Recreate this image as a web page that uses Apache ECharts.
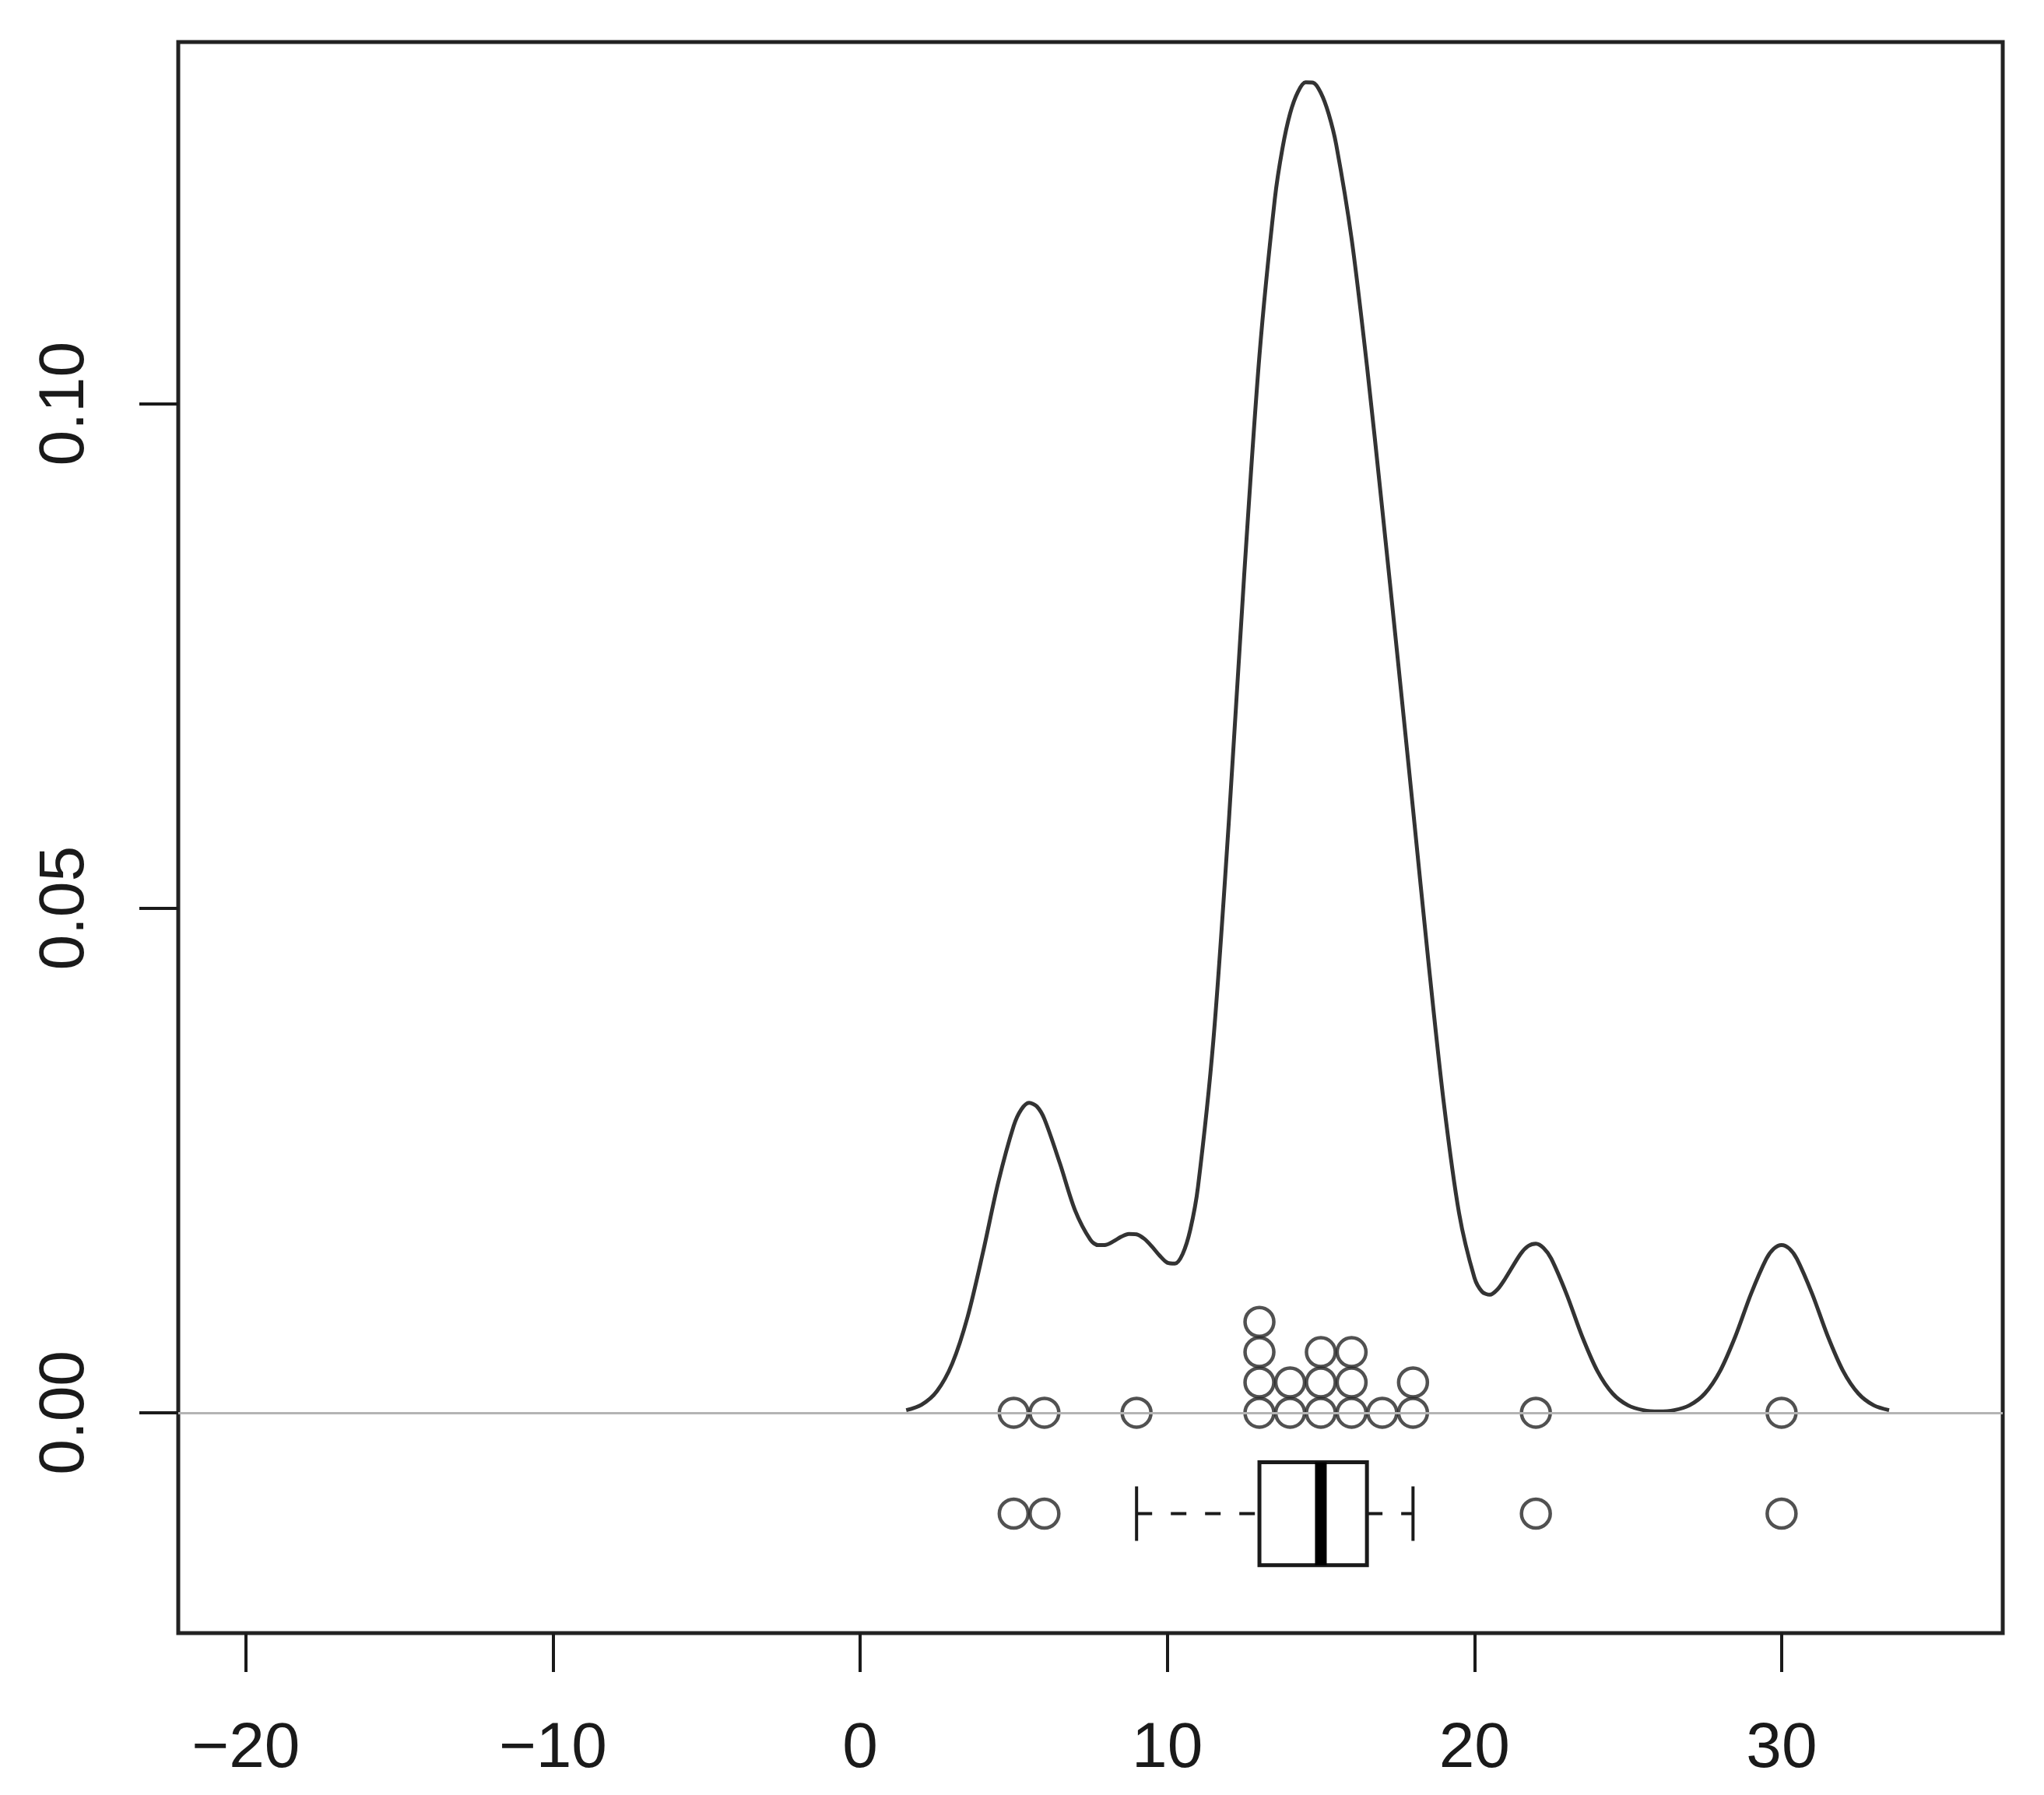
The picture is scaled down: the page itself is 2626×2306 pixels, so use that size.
<!DOCTYPE html>
<html>
<head>
<meta charset="utf-8">
<script src="https://cdn.jsdelivr.net/npm/echarts@6/dist/echarts.min.js"></script>
<style>
html, body { margin: 0; padding: 0; background: #fff; }
#chart { width: 2626px; height: 2306px; }
</style>
</head>
<body>
<div id="chart"></div>
<script>
// density curve
var densX = [1.5, 2, 2.5, 3, 3.5, 4, 4.5, 5, 5.25, 5.5, 5.75, 6, 6.5, 7, 7.5, 7.75, 8, 8.25, 8.5,
    8.75, 9, 9.25, 9.5, 9.75, 10, 10.25, 10.5, 10.75, 11, 11.5, 12, 12.5, 13, 13.5, 13.75, 14,
    14.25, 14.5, 14.75, 15, 15.25, 15.5, 16, 16.5, 17, 17.5, 18, 18.5, 19, 19.5, 20, 20.25,
    20.5, 20.75, 21, 21.5, 21.75, 22, 22.25, 22.5, 23, 23.5, 24, 24.5, 25, 25.5, 26, 26.5, 27,
    27.5, 28, 28.5, 29, 29.5, 29.75, 30, 30.25, 30.5, 31, 31.5, 32, 32.5, 33, 33.5];
var densY = [0.00025, 0.00079, 0.00213, 0.00488, 0.00951, 0.0159, 0.02287, 0.02844, 0.03007, 0.03072,
    0.03036, 0.0291, 0.02475, 0.02004, 0.01712, 0.01661, 0.01664, 0.01699, 0.01744,
    0.01772, 0.01768, 0.01724, 0.01647, 0.01557, 0.01487, 0.01478, 0.01573, 0.01815, 0.02239,
    0.03689, 0.0584, 0.08284, 0.10475, 0.12026, 0.12531, 0.12878,
    0.13088, 0.13184, 0.13181, 0.1308, 0.12876, 0.12567, 0.11636, 0.10376, 0.08952, 0.0748,
    0.05983, 0.04476, 0.03076, 0.01977, 0.01337, 0.01199,
    0.01169, 0.01222, 0.01328, 0.01573, 0.01652, 0.01675, 0.01633, 0.01527, 0.01175, 0.00761,
    0.00415, 0.0019, 0.00073, 0.00025, 0.00013, 0.00025, 0.00073,
    0.0019, 0.00415, 0.00761, 0.01175, 0.01524, 0.01627, 0.01662, 0.01627, 0.01524, 0.01175,
    0.00761, 0.00415, 0.0019, 0.00073, 0.00025];

// observations (stacked strip chart)
var obs = [5, 6, 9, 13, 13, 13, 13, 14, 14, 15, 15, 15, 16, 16, 16, 17, 18, 18, 22, 30];

// boxplot: lower whisker, Q1, median, Q3, upper whisker
var boxStats = [9, 13, 15, 16.5, 18];
var boxOut = [5, 6, 22, 30];

var xTicks = [-20, -10, 0, 10, 20, 30];
var xTickLabels = ['\u221220', '\u221210', '0', '10', '20', '30'];
var yTicks = [0, 0.05, 0.10];
var yTickLabels = ['0.00', '0.05', '0.10'];

var STACK_STEP = 0.003;
var BOX_Y = -0.01;
var BOX_HALF = 0.0051;
var CAP_HALF = 0.0027;
var INK = '#1a1a1a';

var counts = {};
var dotData = obs.map(function (v) {
    counts[v] = (counts[v] || 0) + 1;
    return [v, (counts[v] - 1) * STACK_STEP];
});

var curve = densX.map(function (x, i) { return [x, densY[i]]; });

function lookup(ticks, labels) {
    return function (v) {
        for (var i = 0; i < ticks.length; i++) {
            if (Math.abs(ticks[i] - v) < 1e-9) return labels[i];
        }
        return '';
    };
}

function renderBox(params, api) {
    var lo = api.coord([api.value(0), BOX_Y]);
    var q1 = api.coord([api.value(1), BOX_Y]);
    var md = api.coord([api.value(2), BOX_Y]);
    var q3 = api.coord([api.value(3), BOX_Y]);
    var hi = api.coord([api.value(4), BOX_Y]);
    var top = api.coord([0, BOX_Y + BOX_HALF])[1];
    var bot = api.coord([0, BOX_Y - BOX_HALF])[1];
    var capT = api.coord([0, BOX_Y + CAP_HALF])[1];
    var capB = api.coord([0, BOX_Y - CAP_HALF])[1];
    var y = lo[1];
    var dash = { stroke: INK, lineWidth: 4, lineDash: [20, 24] };
    var solid = { stroke: INK, lineWidth: 4 };
    return {
        type: 'group',
        children: [
            { type: 'line', shape: { x1: lo[0], y1: y, x2: q1[0], y2: y }, style: dash },
            { type: 'line', shape: { x1: q3[0], y1: y, x2: hi[0], y2: y }, style: dash },
            { type: 'line', shape: { x1: lo[0], y1: capT, x2: lo[0], y2: capB }, style: solid },
            { type: 'line', shape: { x1: hi[0], y1: capT, x2: hi[0], y2: capB }, style: solid },
            { type: 'rect', shape: { x: q1[0], y: top, width: q3[0] - q1[0], height: bot - top },
              style: { fill: 'none', stroke: INK, lineWidth: 5 } },
            { type: 'line', shape: { x1: md[0], y1: top, x2: md[0], y2: bot },
              style: { stroke: '#000', lineWidth: 15 } }
        ]
    };
}

var chart = echarts.init(document.getElementById('chart'));
chart.setOption({
    animation: false,
    backgroundColor: '#fff',
    grid: {
        left: 229, right: 53, top: 54, bottom: 208,
        containLabel: false,
        outerBoundsMode: 'none',
        show: true,
        borderColor: '#222',
        borderWidth: 5,
        backgroundColor: 'transparent'
    },
    xAxis: {
        type: 'value',
        min: -22.2,
        max: 37.2,
        axisLine: { show: false, onZero: false },
        splitLine: { show: false },
        axisTick: {
            show: true, inside: false, length: 50,
            customValues: xTicks,
            lineStyle: { color: INK, width: 4 }
        },
        axisLabel: {
            customValues: xTicks,
            formatter: lookup(xTicks, xTickLabels),
            margin: 108,
            color: INK,
            fontFamily: 'Liberation Sans, Arial, sans-serif',
            fontSize: 82
        }
    },
    yAxis: {
        type: 'value',
        min: -0.02184,
        max: 0.13584,
        axisLine: { show: false, onZero: false },
        splitLine: { show: false },
        axisTick: {
            show: true, inside: false, length: 50,
            customValues: yTicks,
            lineStyle: { color: INK, width: 4 }
        },
        axisLabel: {
            customValues: yTicks,
            formatter: lookup(yTicks, yTickLabels),
            rotate: 90,
            margin: 104,
            color: INK,
            fontFamily: 'Liberation Sans, Arial, sans-serif',
            fontSize: 82
        }
    },
    series: [
        {
            type: 'line',
            data: curve,
            showSymbol: false,
            smooth: 0.3,
            silent: true,
            lineStyle: { color: '#333', width: 5 },
            markLine: {
                silent: true,
                symbol: ['none', 'none'],
                label: { show: false },
                lineStyle: { color: '#b4b4b4', width: 3, type: 'solid' },
                data: [{ yAxis: 0 }]
            },
            z: 2
        },
        {
            type: 'scatter',
            data: dotData,
            symbol: 'circle',
            symbolSize: 37,
            silent: true,
            itemStyle: { color: 'rgba(0,0,0,0)', borderColor: '#262626', borderWidth: 4.5 },
            z: 3
        },
        {
            type: 'custom',
            data: [boxStats],
            renderItem: renderBox,
            silent: true,
            z: 4
        },
        {
            type: 'scatter',
            data: boxOut.map(function (v) { return [v, BOX_Y]; }),
            symbol: 'circle',
            symbolSize: 37,
            silent: true,
            itemStyle: { color: 'rgba(0,0,0,0)', borderColor: '#262626', borderWidth: 4.5 },
            z: 3
        }
    ]
});
</script>
</body>
</html>
